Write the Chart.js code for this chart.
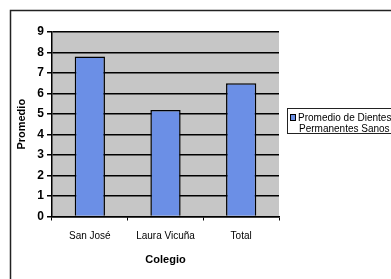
<!DOCTYPE html>
<html>
<head>
<meta charset="utf-8">
<script src="https://cdn.jsdelivr.net/npm/chart.js@4"></script>
<style>
html,body{margin:0;padding:0;background:#fff;overflow:hidden;width:391px;height:279px;}
#wrap{position:absolute;left:0;top:0;width:430px;height:300px;}
</style>
</head>
<body>
<div id="wrap"><canvas id="c" width="430" height="300"></canvas></div>
<script>
const categories = ["San José", "Laura Vicuña", "Total"];
const seriesLabel = "Promedio de Dientes Permanentes Sanos";
const values = [7.8, 5.2, 6.5];
const yMin = 0, yMax = 9, yStep = 1;
const yTitle = "Promedio";
const xTitle = "Colegio";

const FONT = "'Liberation Sans', Arial, sans-serif";

const framePlugin = {
  id: 'frame',
  beforeDraw(chart) {
    const ctx = chart.ctx;
    ctx.save();
    ctx.fillStyle = '#fff';
    ctx.fillRect(0, 0, chart.width, chart.height);
    ctx.strokeStyle = '#222';
    ctx.lineWidth = 1.5;
    ctx.strokeRect(10.5, 10.5, chart.width - 5, chart.height - 5);
    const a = chart.chartArea;
    ctx.fillStyle = '#c6c6c6';
    ctx.fillRect(a.left, a.top, a.right - a.left, a.bottom - a.top);
    ctx.restore();
  },
  afterDraw(chart) {
    const ctx = chart.ctx;
    ctx.save();
    // legend box
    ctx.fillStyle = '#fff';
    ctx.fillRect(287, 108, 140, 25);
    ctx.strokeStyle = '#222';
    ctx.lineWidth = 1;
    ctx.strokeRect(287.5, 108.5, 140, 25);
    ctx.fillStyle = chart.data.datasets[0].backgroundColor;
    ctx.fillRect(290, 114, 5, 6);
    ctx.strokeStyle = '#000';
    ctx.strokeRect(290.5, 114.5, 5, 6);
    ctx.fillStyle = '#000';
    ctx.font = "10px " + FONT;
    ctx.textBaseline = 'middle';
    ctx.textAlign = 'left';
    const words = chart.data.datasets[0].label.split(' ');
    ctx.fillText(words.slice(0, 3).join(' '), 298, 118);
    ctx.fillText(words.slice(3).join(' '), 299, 129);
    ctx.restore();
  }
};

new Chart(document.getElementById('c'), {
  type: 'bar',
  data: {
    labels: categories,
    datasets: [{
      label: seriesLabel,
      data: values,
      backgroundColor: '#6b8fe6',
      borderColor: '#000',
      borderWidth: 1.5,
      barPercentage: 0.8,
      categoryPercentage: 0.5
    }]
  },
  options: {
    responsive: false,
    animation: false,
    devicePixelRatio: 1,
    layout: { padding: { left: 10, right: 151, top: 32, bottom: 20 } },
    plugins: { legend: { display: false }, tooltip: { enabled: false } },
    scales: {
      x: {
        grid: { drawOnChartArea: false, color: '#000', tickLength: 4, lineWidth: 1 },
        border: { color: '#000', width: 1.5 },
        ticks: { color: '#000', font: { family: FONT, size: 10 }, padding: 10, maxRotation: 0 },
        title: { display: true, text: xTitle, color: '#000', font: { family: FONT, size: 11, weight: 'bold' }, padding: { top: 0, bottom: 13 } },
        afterFit(s) { s.height = 63.5; }
      },
      y: {
        min: yMin, max: yMax,
        ticks: { stepSize: yStep, color: '#000', font: { family: FONT, size: 12, weight: 'bold' }, padding: 3 },
        grid: { color: '#000', lineWidth: 1.5, tickLength: 5 },
        border: { color: '#000', width: 1.5 },
        title: { display: true, text: yTitle, color: '#000', font: { family: FONT, size: 11, weight: 'bold' }, padding: { top: 5, bottom: 0 } },
        afterFit(s) { s.width = 42; }
      }
    }
  },
  plugins: [framePlugin]
});
</script>
</body>
</html>
